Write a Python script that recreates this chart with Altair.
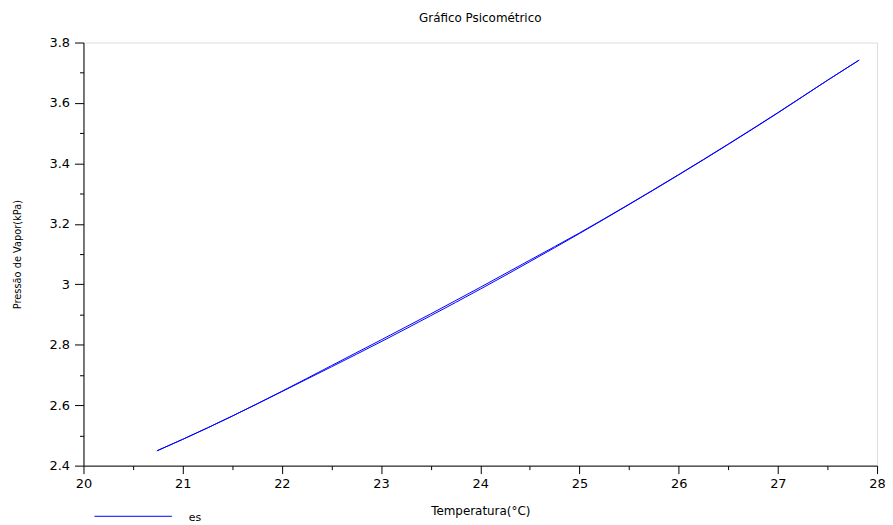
import altair as alt
import pandas as pd

# Data (two nearly overlapping traces)
temp_a = [20.74, 21.0, 21.5, 22.0, 22.5, 23.0, 23.5, 24.0, 24.5, 25.0, 25.5, 26.0, 26.5, 27.0, 27.5, 27.82]
es_a = [2.449, 2.487, 2.564, 2.645, 2.727, 2.810, 2.896, 2.984, 3.075, 3.168, 3.264, 3.362, 3.463, 3.567, 3.675, 3.742]
temp_b = [20.74, 21.0, 21.5, 22.0, 22.5, 23.0, 23.5, 24.0, 24.5, 25.0, 25.5, 26.0, 26.5, 27.0, 27.5, 27.82]
es_b = [2.449, 2.487, 2.564, 2.646, 2.731, 2.816, 2.902, 2.990, 3.080, 3.170, 3.265, 3.363, 3.464, 3.568, 3.675, 3.742]

x_ticks = [20, 20.5, 21, 21.5, 22, 22.5, 23, 23.5, 24, 24.5, 25, 25.5, 26, 26.5, 27, 27.5, 28]
y_ticks = [2.4, 2.5, 2.6, 2.7, 2.8, 2.9, 3.0, 3.1, 3.2, 3.3, 3.4, 3.5, 3.6, 3.7, 3.8]

series_name = "es"
title_text = "Gráfico Psicométrico"
x_title = "Temperatura(°C)"
y_title = "Pressão de Vapor(kPa)"

df = pd.DataFrame({
    "T": temp_a + temp_b,
    "es": es_a + es_b,
    "trace": ["a"] * len(temp_a) + ["b"] * len(temp_b),
})

FONT = "DejaVu Sans, Liberation Sans, sans-serif"
NARROW = "DejaVu Sans Condensed, Liberation Sans Narrow, DejaVu Sans, sans-serif"

x_axis = alt.Axis(
    values=x_ticks,
    labelExpr="datum.value % 1 === 0 ? format(datum.value, '~g') : ''",
    tickSize={"condition": {"test": "datum.value % 1 === 0", "value": 8}, "value": 4},
    grid=False,
    domainColor="black", tickColor="black", domainWidth=1, tickWidth=1,
    labelFont=FONT, labelFontSize=13, labelColor="black", labelPadding=4,
    labelFlush=False, labelOverlap=False,
    title=x_title, titleFont=FONT, titleFontSize=12, titleFontWeight="normal",
    titleColor="black", titleY=49, titleBaseline="alphabetic",
)
y_axis = alt.Axis(
    values=y_ticks,
    labelExpr="round(datum.value*10) % 2 === 0 ? format(datum.value, '~g') : ''",
    tickSize={"condition": {"test": "round(datum.value*10) % 2 === 0", "value": 9}, "value": 4},
    grid=False,
    domainColor="black", tickColor="black", domainWidth=1, tickWidth=1,
    labelFont=FONT, labelFontSize=13, labelColor="black", labelPadding=5,
    labelFlush=False, labelOverlap=False,
    title=y_title, titleFont=NARROW, titleFontSize=11,
    titleFontWeight="normal", titleColor="black",
    titleAngle=-90, titleX=-66, titleY=213, titleAlign="center", titleBaseline="middle",
)

line = alt.Chart(df).mark_line(color="#0000ff", strokeWidth=1, interpolate="monotone").encode(
    x=alt.X("T:Q", scale=alt.Scale(domain=[20, 28], nice=False, zero=False), axis=x_axis),
    y=alt.Y("es:Q", scale=alt.Scale(domain=[2.4, 3.8], nice=False, zero=False), axis=y_axis),
    detail="trace:N",
)

legend_df = pd.DataFrame({"label": [series_name]})
legend_line = alt.Chart(legend_df).mark_rule(color="#0000ff", strokeWidth=1).encode(
    x=alt.value(11), x2=alt.value(89), y=alt.value(477)
)
legend_text = alt.Chart(legend_df).mark_text(
    align="left", baseline="middle", font=FONT, fontSize=11, color="black"
).encode(x=alt.value(106), y=alt.value(479), text="label:N")

chart = alt.layer(line, legend_line, legend_text).properties(
    width=799,
    height=426,
    title=alt.TitleParams(title_text, font=FONT, fontSize=12, fontWeight="normal",
                          color="black", anchor="middle", offset=12),
    autosize=alt.AutoSizeParams(type="none"),
    padding={"left": 76, "top": 33, "right": 8, "bottom": 58},
).configure_view(stroke=None).configure(background="white", font=FONT)

chart.save("out.html", embed_options={"renderer": "svg", "actions": False})
